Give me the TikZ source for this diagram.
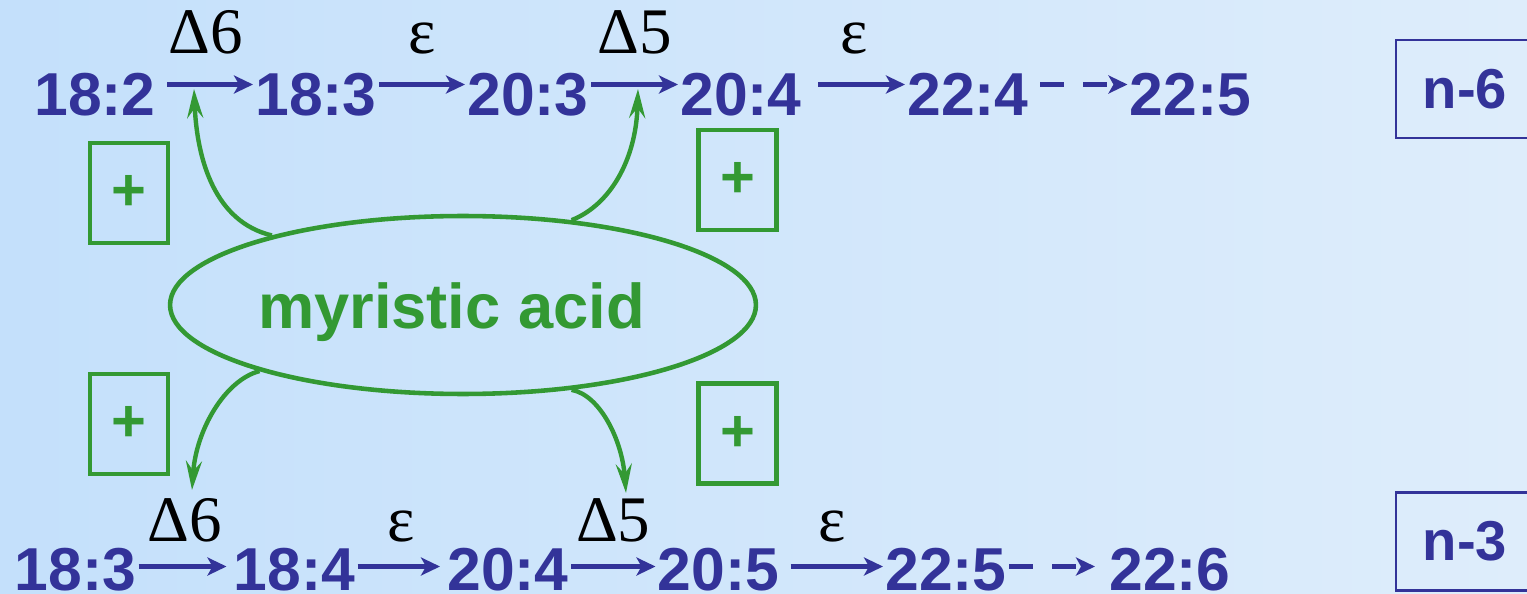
\documentclass[tikz,border=0pt]{standalone}
\usepackage{fontspec}
\setmainfont{Liberation Serif}
\setsansfont{Liberation Sans}
\usetikzlibrary{arrows.meta, shapes.geometric}
\definecolor{Azul1}{RGB}{51,51,153}
\definecolor{Verde1}{RGB}{51,153,51}
\definecolor{Fondo1}{RGB}{196,224,251}
\definecolor{Fondo2}{RGB}{222,237,251}

\begin{document}
\begin{tikzpicture}[x=0.02cm, y=-0.02cm,
  acA/.style={anchor=base, inner xsep=0.04cm, inner ysep=0pt,
    text height=1.24cm, text depth=0pt, text=Azul1,
    font=\sffamily\bfseries\fontsize{34.5}{40}\selectfont},
  acB/.style={acA, text height=0.94cm},
  enz/.style={inner sep=0pt, text=black, font=\fontsize{37}{40}\selectfont},
  serie/.style={rectangle, draw=Azul1, line width=1.5pt,
    minimum width=2.76cm, minimum height=1.96cm, text=Azul1,
    font=\sffamily\bfseries\fontsize{32}{38}\selectfont},
  mas/.style={rectangle, draw=Verde1, line width=2.8pt, inner sep=0pt,
    minimum width=1.56cm, minimum height=2.0cm, text=Verde1,
    font=\sffamily\bfseries\fontsize{34}{40}\selectfont},
  mir/.style={ellipse, draw=Verde1, line width=2.6pt, inner sep=0pt,
    minimum width=11.72cm, minimum height=3.56cm,
    text height=1.23cm, text depth=0.27cm, text=Verde1,
    font=\sffamily\bfseries\fontsize{36}{40}\selectfont},
  fa/.style={-{Stealth[length=0.38cm, width=0.36cm, inset=0.1cm]},
    line width=3pt, draw=Azul1},
  fd/.style={fa, dash pattern=on 0.48cm off 0.38cm},
  fv/.style={-{Stealth[length=0.58cm, width=0.32cm, inset=0.2cm]},
    line width=2.5pt, draw=Verde1}
]

%% -- fondo ---------------------------------------------------------
\shade[left color=Fondo1, right color=Fondo2] (0,0) rectangle (1527,594);
\useasboundingbox (0,0) rectangle (1527,594);

%% -- serie n-6 (arriba) --------------------------------------------
\node[acA] (a1) at (95,115.5)   {18:2};
\node[acA] (a2) at (316,115.5)  {18:3};
\node[acA] (a3) at (528,115.5)  {20:3};
\node[acA] (a4) at (741,115.5)  {20:4};
\node[acA] (a5) at (968,115.5)  {22:4};
\node[acA] (a6) at (1190.5,115.5) {22:5};

\draw[fa, shorten <=0.18cm] (a1.east) -- node[enz, above=0.56cm] {Δ6} (a2.west);
\draw[fa] (a2.east) -- node[enz, above=0.56cm] {ε} (a3.west);
\draw[fa] (a3.east) -- node[enz, above=0.56cm] {Δ5} (a4.west);
\draw[fa, shorten <=0.28cm] (a4.east) -- node[enz, above=0.56cm] {ε} (a5.west);
\draw[fd, shorten <=0.18cm] (a5.east) -- (a6.west);

\node[serie] (n6) at (1465,89) {n-6};

%% -- serie n-3 (abajo) ---------------------------------------------
\node[acB] (b1) at (75.5,590)  {18:3};
\node[acB] (b2) at (294.5,590) {18:4};
\node[acB] (b3) at (508,590)   {20:4};
\node[acB] (b4) at (718.5,590) {20:5};
\node[acB] (b5) at (946,590)   {22:5};
\node[acB] (b6) at (1170,590)  {22:6};

\draw[fa, shorten >=0.1cm] (b1.east) -- node[enz, above=0.44cm] {Δ6} (b2.west);
\draw[fa, shorten >=0.1cm] (b2.east) -- node[enz, above=0.44cm] {ε} (b3.west);
\draw[fa] (b3.east) -- node[enz, above=0.44cm] {Δ5} (b4.west);
\draw[fa, shorten <=0.18cm] (b4.east) -- node[enz, above=0.44cm] {ε} (b5.west);
\draw[fd, shorten >=0.24cm] (b5.east) -- (b6.west);

\node[serie] (n3) at (1465,541.5) {n-3};

%% -- acido miristico -----------------------------------------------
\node[mir] (mir) at (463,305) {myristic acid\rule{0.46cm}{0pt}};

\node[mas] (p1) at (129,193)     {+};
\node[mas] (p2) at (737.5,180)   {+};
\node[mas] (p3) at (129,424)     {+};
\node[mas] (p4) at (737.5,433.5) {+};

\coordinate (tTL) at (194,89);
\coordinate (tTR) at (638,89);
\coordinate (tBL) at (192,490);
\coordinate (tBR) at (626,493);

\draw[fv] (mir.160) .. controls (215,222) and (197,160) .. (tTL);
\draw[fv] (mir.38)  .. controls (610,205) and (636,160) .. (tTR);
\draw[fv] (mir.198) .. controls (225,380) and (196,430) .. (tBL);
\draw[fv] (mir.322) .. controls (600,395) and (622,440) .. (tBR);

\end{tikzpicture}
\end{document}
